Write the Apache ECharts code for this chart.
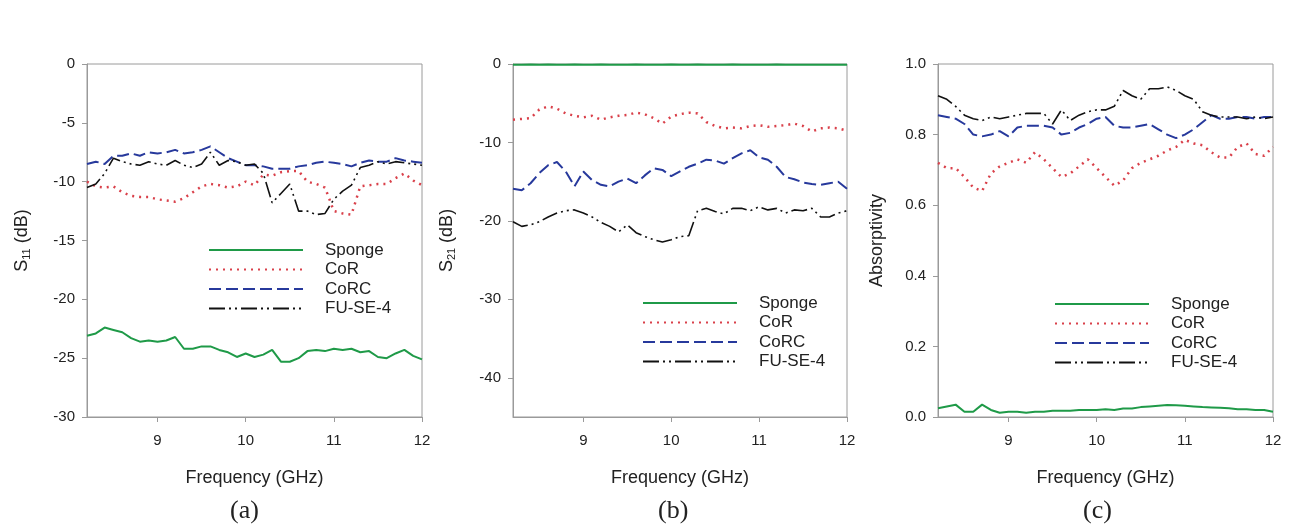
<!DOCTYPE html>
<html>
<head>
<meta charset="utf-8">
<script src="https://cdn.jsdelivr.net/npm/echarts@6/dist/echarts.min.js"></script>
<style>
  html, body { margin: 0; padding: 0; background: #fff; }
  #main { width: 1291px; height: 531px; }
</style>
</head>
<body>
<div id="main"></div>
<script>
// frequency points (GHz)
var freq = [8.2, 8.3, 8.4, 8.5, 8.6, 8.7, 8.8, 8.9, 9.0, 9.1, 9.2, 9.3, 9.4, 9.5, 9.6, 9.7, 9.8, 9.9, 10.0,
            10.1, 10.2, 10.3, 10.4, 10.5, 10.6, 10.7, 10.8, 10.9, 11.0, 11.1, 11.2, 11.3, 11.4, 11.5, 11.6, 11.7, 11.8, 11.9, 12.0];
var names = ['Sponge', 'CoR', 'CoRC', 'FU-SE-4'];
var freqTicks = [9, 10, 11, 12];
var s21Ticks = [0, -10, -20, -30, -40];

// (a) S11 (dB)
var s11Sponge = [-23.1, -22.9, -22.4, -22.6, -22.8, -23.3, -23.6, -23.5, -23.6, -23.5, -23.2, -24.2, -24.2, -24.0, -24.0, -24.3, -24.5, -24.9, -24.6,
                 -24.9, -24.7, -24.3, -25.3, -25.3, -25.0, -24.4, -24.3, -24.4, -24.2, -24.3, -24.2, -24.5, -24.4, -24.9, -25.0, -24.6, -24.3, -24.8, -25.1];
var s11CoR = [-10.0, -10.4, -10.5, -10.4, -10.9, -11.2, -11.3, -11.3, -11.5, -11.6, -11.7, -11.4, -10.9, -10.4, -10.2, -10.3, -10.5, -10.4, -10.0,
              -10.3, -9.4, -9.5, -9.2, -9.1, -9.1, -10.0, -10.2, -10.5, -12.5, -12.7, -12.8, -10.4, -10.3, -10.2, -10.2, -9.7, -9.3, -9.9, -10.3];
var s11CoRC = [-8.5, -8.3, -8.5, -7.8, -7.8, -7.6, -7.8, -7.5, -7.6, -7.5, -7.3, -7.6, -7.5, -7.3, -7.0, -7.5, -8.0, -8.3, -8.6,
               -8.6, -8.7, -8.9, -8.9, -8.9, -8.7, -8.6, -8.4, -8.3, -8.4, -8.5, -8.7, -8.4, -8.2, -8.3, -8.3, -8.0, -8.2, -8.3, -8.4];
var s11FU = [-10.5, -10.2, -9.3, -8.0, -8.3, -8.5, -8.6, -8.3, -8.5, -8.6, -8.2, -8.6, -8.8, -8.5, -7.5, -8.6, -8.2, -8.3, -8.6,
             -8.5, -9.3, -11.8, -11.0, -10.2, -12.5, -12.5, -12.8, -12.7, -11.5, -10.8, -10.3, -8.8, -8.6, -8.3, -8.5, -8.3, -8.4, -8.5, -8.6];

// (b) S21 (dB)
var s21Sponge = [-0.1, -0.1, -0.05, -0.1, -0.05, -0.1, -0.1, -0.05, -0.1, -0.1, -0.05, -0.1, -0.1, -0.1, -0.05, -0.1, -0.1, -0.1, -0.05,
                 -0.1, -0.1, -0.05, -0.1, -0.1, -0.1, -0.05, -0.1, -0.1, -0.1, -0.1, -0.05, -0.1, -0.1, -0.1, -0.1, -0.1, -0.1, -0.1, -0.1];
var s21CoR = [-7.1, -7.0, -6.9, -5.8, -5.4, -5.7, -6.3, -6.6, -6.8, -6.6, -7.1, -6.8, -6.6, -6.5, -6.2, -6.4, -6.9, -7.6, -6.7,
              -6.4, -6.2, -6.3, -7.4, -7.9, -8.2, -8.1, -8.2, -7.9, -7.8, -8.0, -7.9, -7.8, -7.6, -7.9, -8.6, -8.2, -8.1, -8.2, -8.5];
var s21CoRC = [-15.9, -16.1, -15.2, -13.9, -12.9, -12.5, -13.7, -15.6, -13.7, -14.8, -15.4, -15.6, -15.0, -14.6, -15.2, -14.2, -13.3, -13.5, -14.3,
               -13.7, -13.1, -12.7, -12.2, -12.3, -12.7, -12.0, -11.4, -11.0, -11.9, -12.2, -13.1, -14.4, -14.7, -15.1, -15.3, -15.4, -15.2, -15.0, -15.9];
var s21FU = [-20.1, -20.7, -20.5, -20.1, -19.5, -19.0, -18.7, -18.6, -19.0, -19.5, -20.2, -20.7, -21.4, -20.5, -21.5, -22.0, -22.4, -22.7, -22.4,
             -22.0, -21.9, -18.7, -18.4, -18.8, -19.1, -18.4, -18.4, -18.7, -18.2, -18.6, -18.4, -19.0, -18.6, -18.7, -18.4, -19.5, -19.5, -19.0, -18.7];

// (c) Absorptivity
var absSponge = [0.025, 0.03, 0.035, 0.015, 0.015, 0.035, 0.02, 0.012, 0.015, 0.015, 0.012, 0.015, 0.015, 0.018, 0.018, 0.018, 0.02, 0.02, 0.02,
                 0.022, 0.02, 0.024, 0.024, 0.028, 0.03, 0.032, 0.034, 0.033, 0.032, 0.03, 0.028, 0.027, 0.026, 0.025, 0.022, 0.022, 0.02, 0.02, 0.015];
var absCoR = [0.72, 0.705, 0.705, 0.68, 0.65, 0.64, 0.69, 0.71, 0.72, 0.73, 0.72, 0.75, 0.73, 0.705, 0.68, 0.69, 0.71, 0.73, 0.705,
              0.68, 0.655, 0.67, 0.705, 0.72, 0.73, 0.74, 0.755, 0.765, 0.785, 0.775, 0.77, 0.75, 0.735, 0.735, 0.765, 0.775, 0.745, 0.74, 0.765];
var absCoRC = [0.855, 0.85, 0.845, 0.83, 0.80, 0.795, 0.80, 0.81, 0.795, 0.82, 0.825, 0.825, 0.825, 0.82, 0.80, 0.805, 0.82, 0.83, 0.845,
               0.85, 0.825, 0.82, 0.82, 0.825, 0.83, 0.815, 0.80, 0.79, 0.80, 0.815, 0.835, 0.855, 0.845, 0.845, 0.85, 0.85, 0.845, 0.85, 0.85];
var absFU = [0.91, 0.90, 0.88, 0.855, 0.845, 0.84, 0.85, 0.845, 0.85, 0.855, 0.86, 0.86, 0.86, 0.83, 0.87, 0.84, 0.855, 0.865, 0.87,
             0.87, 0.88, 0.925, 0.91, 0.90, 0.93, 0.93, 0.935, 0.925, 0.91, 0.90, 0.865, 0.855, 0.85, 0.85, 0.85, 0.845, 0.85, 0.845, 0.85];

var colors = { 'Sponge': '#1f9a48', 'CoR': '#d9404a', 'CoRC': '#27399c', 'FU-SE-4': '#111111' };
var styles = {
    'Sponge': { width: 2, type: 'solid' },
    'CoR': { width: 2.5, type: [2, 5] },
    'CoRC': { width: 2, type: [12, 5] },
    'FU-SE-4': { width: 1.6, type: [16, 4, 2, 4, 2, 4] }
};

function pairs(ys) {
    return freq.map(function (f, i) { return [f, ys[i]]; });
}

var font = 'Liberation Sans, Arial, sans-serif';
var frameColor = '#9a9a9a';

function makeX(idx) {
    return {
        type: 'value', gridIndex: idx, min: 8.2, max: 12,
        name: 'Frequency (GHz)', nameLocation: 'middle', nameGap: 52,
        nameTextStyle: { fontFamily: font, fontSize: 18, color: '#222' },
        axisLine: { onZero: false, lineStyle: { color: frameColor } },
        axisTick: { show: true, inside: false, length: 5, customValues: freqTicks, lineStyle: { color: frameColor } },
        axisLabel: { customValues: freqTicks, margin: 16, fontFamily: font, fontSize: 15, color: '#222' },
        splitLine: { show: false }
    };
}

function makeY(idx, opt) {
    var y = {
        type: 'value', gridIndex: idx,
        nameLocation: 'middle', nameRotate: 90,
        nameTextStyle: {
            fontFamily: font, fontSize: 18, color: '#222',
            rich: {
                s: { fontFamily: font, fontSize: 18, color: '#222' },
                sub: { fontFamily: font, fontSize: 11, color: '#222', verticalAlign: 'bottom', padding: [8, 0, 0, 0] }
            }
        },
        axisLine: { show: true, onZero: false, lineStyle: { color: frameColor } },
        axisTick: { show: true, inside: false, length: 5, lineStyle: { color: frameColor } },
        axisLabel: { margin: 12, fontFamily: font, fontSize: 15, color: '#222' },
        splitLine: { show: false }
    };
    for (var k in opt) y[k] = opt[k];
    return y;
}

var grids = [
    { left: 87, top: 64, width: 335, height: 353 },
    { left: 513, top: 64, width: 334, height: 353 },
    { left: 938, top: 64, width: 335, height: 353 }
].map(function (g) {
    g.show = true; g.borderColor = frameColor; g.borderWidth = 1; g.backgroundColor = 'transparent';
    return g;
});

var yAxes = [
    makeY(0, { min: -30, max: 0, interval: 5, name: '{s|S}{sub|11}{s| (dB)}', nameGap: 55 }),
    makeY(1, { min: -45, max: 0, name: '{s|S}{sub|21}{s| (dB)}', nameGap: 56,
               axisTick: { show: true, length: 5, customValues: s21Ticks, lineStyle: { color: frameColor } },
               axisLabel: { customValues: s21Ticks, margin: 12, fontFamily: font, fontSize: 15, color: '#222' } }),
    makeY(2, { min: 0, max: 1, interval: 0.2, name: 'Absorptivity', nameGap: 52,
               axisLabel: { margin: 12, fontFamily: font, fontSize: 15, color: '#222',
                            formatter: function (v) { return v.toFixed(1); } } })
];

var panelData = [
    [s11Sponge, s11CoR, s11CoRC, s11FU],
    [s21Sponge, s21CoR, s21CoRC, s21FU],
    [absSponge, absCoR, absCoRC, absFU]
];

var series = [];
panelData.forEach(function (set, gi) {
    set.forEach(function (ys, si) {
        var nm = names[si];
        series.push({
            name: nm, type: 'line', xAxisIndex: gi, yAxisIndex: gi,
            symbol: 'none', animation: false, clip: true,
            data: pairs(ys),
            itemStyle: { color: colors[nm] },
            lineStyle: { color: colors[nm], width: styles[nm].width, type: styles[nm].type }
        });
    });
});

function makeLegend(left, top) {
    return {
        data: names, orient: 'vertical', left: left, top: top,
        itemWidth: 94, itemHeight: 14, itemGap: 2.5,
        selectedMode: false,
        itemStyle: { color: 'transparent', borderWidth: 0, opacity: 0 },
        textStyle: { fontFamily: font, fontSize: 17, color: '#222', padding: [0, 0, 0, 17] }
    };
}

var myChart = echarts.init(document.getElementById('main'), null, { renderer: 'canvas' });
myChart.setOption({
    backgroundColor: '#fff',
    animation: false,
    grid: grids,
    xAxis: [makeX(0), makeX(1), makeX(2)],
    yAxis: yAxes,
    legend: [makeLegend(203, 236.5), makeLegend(637, 289.5), makeLegend(1049, 290.5)],
    series: series,
    graphic: [
        { type: 'text', left: 230, top: 498, style: { text: '(a)', font: '26px "Liberation Serif", "Times New Roman", serif', fill: '#222' } },
        { type: 'text', left: 658, top: 498, style: { text: '(b)', font: '26px "Liberation Serif", "Times New Roman", serif', fill: '#222' } },
        { type: 'text', left: 1083, top: 498, style: { text: '(c)', font: '26px "Liberation Serif", "Times New Roman", serif', fill: '#222' } }
    ]
});
</script>
</body>
</html>
